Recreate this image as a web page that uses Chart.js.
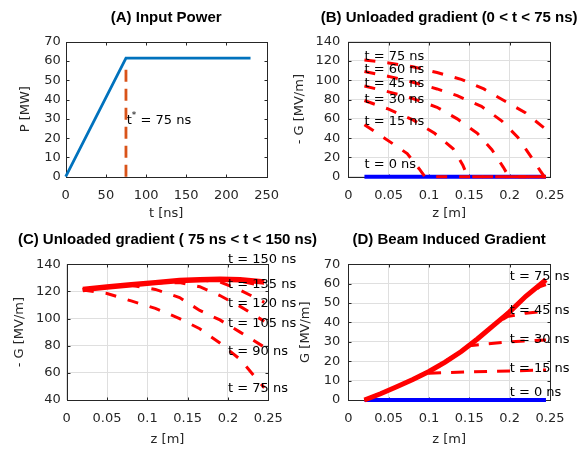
<!DOCTYPE html>
<html>
<head>
<meta charset="utf-8">
<script src="https://cdn.jsdelivr.net/npm/chart.js@4.4.1/dist/chart.umd.min.js"></script>
<style>
  body { margin: 0; background: #fff; }
  #wrap { position: relative; width: 587px; height: 452px; overflow: hidden; }
  #wrap canvas { position: absolute; }
</style>
</head>
<body>
<div id="wrap">
  <canvas id="powerChart" width="290" height="225" style="left:0;top:0"></canvas>
  <canvas id="fillChart" width="297" height="225" style="left:290px;top:0"></canvas>
  <canvas id="flatChart" width="320" height="227" style="left:0;top:225px"></canvas>
  <canvas id="beamChart" width="297" height="227" style="left:290px;top:225px"></canvas>
</div>
<script>
// (A) input power ramp
const powerTime = [0, 75, 230];
const powerMW = [0, 61.5, 61.5];
const markTime = [75, 75];
const markMW = [0, 56];

// (B) unloaded gradient while filling, z [m] / -G [MV/m]
const fillZ75 = [0.02, 0.05, 0.08, 0.11, 0.14, 0.168, 0.195, 0.22, 0.245];
const fillG75 = [121, 118, 114, 108, 101, 91, 78, 66, 49];
const fillZ60 = [0.02, 0.05, 0.08, 0.11, 0.135, 0.165, 0.19, 0.21, 0.227, 0.238, 0.243, 0.245];
const fillG60 = [109, 104, 98, 91, 84, 73, 58, 41, 20, 6, 0, 0];
const fillZ45 = [0.02, 0.05, 0.08, 0.11, 0.135, 0.16, 0.178, 0.192, 0.199, 0.245];
const fillG45 = [94, 88, 81, 72, 60, 45, 28, 10, 0, 0];
const fillZ30 = [0.02, 0.05, 0.08, 0.107, 0.13, 0.142, 0.148, 0.245];
const fillG30 = [79, 70, 59, 45, 29, 12, 0, 0];
const fillZ15 = [0.02, 0.045, 0.073, 0.088, 0.095, 0.245];
const fillG15 = [54, 40, 24, 8, 0, 0];
const fillZ0 = [0.02, 0.245];
const fillG0 = [0, 0];
const fillTimes = ['t = 75 ns', 't = 60 ns', 't = 45 ns', 't = 30 ns', 't = 15 ns', 't = 0 ns'];

// (C) unloaded gradient after the ramp
const flatZ = [0.02, 0.05, 0.08, 0.11, 0.14, 0.165, 0.19, 0.215, 0.245];
const flatG150 = [121.5, 123.3, 125, 126.5, 128, 128.7, 129, 128.7, 127];
const flatG135 = [121.5, 123.3, 125, 126.5, 128, 128.7, 128.8, 127.5, 124];
const flatG120 = [121.5, 123.3, 125, 126.5, 128, 128.5, 127, 121, 112];
const flatG105 = [121.5, 123.3, 125, 126.3, 126.5, 123.5, 117, 109, 98];
const flatG90 = [121.5, 123, 124.5, 121.5, 115.5, 106, 99, 90, 79];
const flatG75 = [121, 118.5, 113, 107.5, 100, 92.5, 82, 70, 49];
const flatTimes = ['t = 150 ns', 't = 135 ns', 't = 120 ns', 't = 105 ns', 't = 90 ns', 't = 75 ns'];

// (D) beam induced gradient
const beamZ = [0.02, 0.04, 0.06, 0.08, 0.1, 0.12, 0.14, 0.16, 0.18, 0.2, 0.22, 0.245];
const beamG75 = [0, 3.2, 6.8, 10.6, 14.7, 19.5, 25, 31.5, 38.5, 45.5, 53.5, 62];
const beamZ60 = [0.02, 0.06, 0.1, 0.14, 0.18, 0.22, 0.238, 0.245];
const beamG60 = [0, 6.8, 14.7, 25, 38.5, 53.5, 58.5, 59.5];
const beamZ45 = [0.02, 0.06, 0.1, 0.14, 0.18, 0.197, 0.22, 0.245];
const beamG45 = [0, 6.8, 14.7, 25, 38.5, 43, 44.8, 45.8];
const beamZ30 = [0.02, 0.06, 0.1, 0.14, 0.15, 0.2, 0.245];
const beamG30 = [0, 6.8, 14.7, 25, 28, 30, 31];
const beamZ15 = [0.02, 0.04, 0.06, 0.08, 0.1, 0.15, 0.2, 0.245];
const beamG15 = [0, 3.2, 6.8, 10.6, 13.8, 14.5, 15, 15.5];
const beamZ0 = [0.02, 0.245];
const beamG0 = [0, 0];
const beamTimes = ['t = 75 ns', 't = 45 ns', 't = 30 ns', 't = 15 ns', 't = 0 ns'];

const INK = '#262626';
const GRID = '#dfdfdf';
const RED = '#ff0000';
const BLUE = '#0000ff';
const DASH = [11, 12];

Chart.defaults.font.family = '"DejaVu Sans", sans-serif';
Chart.defaults.font.size = 13;
Chart.defaults.color = INK;

function pts(xs, ys) {
    return xs.map((x, i) => ({ x: x, y: ys[i] }));
}

function line(xs, ys, color, width, dash) {
    return {
        data: pts(xs, ys),
        borderColor: color,
        borderWidth: width,
        borderDash: dash || [],
        borderCapStyle: 'butt',
        pointRadius: 0,
        fill: false,
        clip: false
    };
}

// matlab-like box with inward ticks, labels inside the axes and the panel heading
const frame = {
    id: 'frame',
    beforeDatasetsDraw(chart) {
        const { ctx, chartArea: a, scales } = chart;
        const L = Math.round(a.left) + 0.5, R = Math.round(a.right) + 0.5;
        const T = Math.round(a.top) + 0.5, B = Math.round(a.bottom) + 0.5;
        ctx.save();
        ctx.strokeStyle = INK;
        ctx.lineWidth = 1;
        ctx.strokeRect(L, T, R - L, B - T);
        ctx.beginPath();
        scales.x.ticks.forEach(t => {
            const px = Math.round(scales.x.getPixelForValue(t.value)) + 0.5;
            ctx.moveTo(px, B); ctx.lineTo(px, B - 3);
            ctx.moveTo(px, T); ctx.lineTo(px, T + 3);
        });
        scales.y.ticks.forEach(t => {
            const py = Math.round(scales.y.getPixelForValue(t.value)) + 0.5;
            ctx.moveTo(L, py); ctx.lineTo(L + 3, py);
            ctx.moveTo(R, py); ctx.lineTo(R - 3, py);
        });
        ctx.stroke();
        ctx.restore();
    },
    afterDatasetsDraw(chart, args, opts) {
        const { ctx, chartArea: a, scales: { x, y } } = chart;
        ctx.save();
        ctx.fillStyle = '#000';
        ctx.textBaseline = 'middle';
        ctx.textAlign = 'left';
        (opts.notes || []).forEach(n => {
            let px = x.getPixelForValue(n.x);
            const py = y.getPixelForValue(n.y);
            ctx.font = '13px "DejaVu Sans"';
            ctx.fillText(n.text, px, py);
            if (n.sup) {
                px += ctx.measureText(n.text).width;
                ctx.font = '9px "DejaVu Sans"';
                ctx.fillText(n.sup, px, py - 5);
                px += ctx.measureText(n.sup).width;
                ctx.font = '13px "DejaVu Sans"';
                ctx.fillText(n.rest, px, py);
            }
        });
        if (opts.heading) {
            ctx.font = 'bold 15px "Liberation Sans"';
            ctx.textAlign = 'center';
            ctx.fillText(opts.heading, (a.left + a.right) / 2, opts.headingY);
        }
        ctx.restore();
    }
};
Chart.register(frame);

function panel(o) {
    return {
        responsive: false,
        animation: false,
        events: [],
        layout: { padding: { left: 0, right: o.padRight, top: o.top, bottom: 0 } },
        plugins: {
            legend: { display: false },
            tooltip: { enabled: false },
            frame: { heading: o.heading, headingY: o.headingY, notes: o.notes }
        },
        scales: {
            x: {
                type: 'linear',
                min: o.xMin,
                max: o.xMax,
                ticks: {
                    stepSize: o.xStep,
                    padding: 11,
                    maxRotation: 0,
                    autoSkip: false,
                    callback: v => String(+v.toFixed(2))
                },
                grid: { display: o.grid, color: GRID, drawTicks: false },
                border: { display: false },
                title: { display: true, text: o.xTitle, padding: { top: 0, bottom: o.xTitlePad } },
                afterFit: s => { s.height = o.xh; }
            },
            y: {
                min: o.yMin,
                max: o.yMax,
                ticks: { stepSize: o.yStep, padding: o.yTickPad, autoSkip: false },
                grid: { display: o.grid, color: GRID, drawTicks: false },
                border: { display: false },
                title: { display: true, text: o.yTitle, padding: { top: o.yTitlePad, bottom: 0 } },
                afterFit: s => { s.width = o.yw; }
            }
        }
    };
}

new Chart(document.getElementById('powerChart'), {
    type: 'line',
    data: {
        datasets: [
            line(powerTime, powerMW, '#0072bd', 2.8),
            line(markTime, markMW, '#d95319', 2.8, [12, 7])
        ]
    },
    options: panel({
        padRight: 21.7, top: 41.7, xh: 48.3, yw: 65.7,
        xMin: 0, xMax: 250, xStep: 50, yMin: 0, yMax: 70, yStep: 10,
        grid: false, xTitle: 't [ns]', yTitle: 'P [MW]',
        xTitlePad: 3.2, yTitlePad: 17.7, yTickPad: 5,
        heading: '(A) Input Power', headingY: 17.5,
        notes: [{ x: 76, y: 29, text: 't', sup: '*', rest: ' = 75 ns' }]
    })
});

const fillLabelG = [124.4, 110.6, 96.8, 80.2, 56.9, 12.7];
new Chart(document.getElementById('fillChart'), {
    type: 'line',
    data: {
        datasets: [
            line(fillZ75, fillG75, RED, 3, DASH),
            line(fillZ60, fillG60, RED, 3, DASH),
            line(fillZ45, fillG45, RED, 3, DASH),
            line(fillZ30, fillG30, RED, 3, DASH),
            line(fillZ15, fillG15, RED, 3, DASH),
            line(fillZ0, fillG0, BLUE, 4)
        ]
    },
    options: panel({
        padRight: 37, top: 41.7, xh: 48.3, yw: 58.3,
        xMin: 0, xMax: 0.25, xStep: 0.05, yMin: 0, yMax: 140, yStep: 20,
        grid: true, xTitle: 'z [m]', yTitle: '- G [MV/m]',
        xTitlePad: 3.2, yTitlePad: 2.2, yTickPad: 8,
        heading: '(B) Unloaded gradient (0 < t < 75 ns)', headingY: 17.5,
        notes: fillTimes.map((t, i) => ({ x: 0.02, y: fillLabelG[i], text: t }))
    })
});

const flatLabelG = [143.2, 124.7, 110.7, 96, 75.6, 48.6];
new Chart(document.getElementById('flatChart'), {
    type: 'line',
    data: {
        datasets: [
            line(flatZ, flatG150, RED, 5.5),
            line(flatZ, flatG135, RED, 3, DASH),
            line(flatZ, flatG120, RED, 3, DASH),
            line(flatZ, flatG105, RED, 3, DASH),
            line(flatZ, flatG90, RED, 3, DASH),
            line(flatZ, flatG75, RED, 3, DASH)
        ]
    },
    options: panel({
        padRight: 51.7, top: 39.3, xh: 52, yw: 66.7,
        xMin: 0, xMax: 0.25, xStep: 0.05, yMin: 40, yMax: 140, yStep: 20,
        grid: true, xTitle: 'z [m]', yTitle: '- G [MV/m]',
        xTitlePad: 4.2, yTitlePad: 11.4, yTickPad: 6,
        heading: '(C) Unloaded gradient ( 75 ns < t < 150 ns)', headingY: 15,
        notes: flatTimes.map((t, i) => ({ x: 0.2, y: flatLabelG[i], text: t }))
    })
});

const beamLabelG = [63.6, 45.9, 31.3, 16.3, 3.8];
const BEAM_DASH = [13, 10];
new Chart(document.getElementById('beamChart'), {
    type: 'line',
    data: {
        datasets: [
            line(beamZ, beamG75, RED, 5),
            line(beamZ60, beamG60, RED, 3, BEAM_DASH),
            line(beamZ45, beamG45, RED, 3, BEAM_DASH),
            line(beamZ30, beamG30, RED, 3, BEAM_DASH),
            line(beamZ15, beamG15, RED, 3, BEAM_DASH),
            line(beamZ0, beamG0, BLUE, 4)
        ]
    },
    options: panel({
        padRight: 37, top: 39.3, xh: 52, yw: 58.3,
        xMin: 0, xMax: 0.25, xStep: 0.05, yMin: 0, yMax: 70, yStep: 10,
        grid: true, xTitle: 'z [m]', yTitle: 'G [MV/m]',
        xTitlePad: 4.2, yTitlePad: 8, yTickPad: 8,
        heading: '(D) Beam Induced Gradient', headingY: 15,
        notes: beamTimes.map((t, i) => ({ x: 0.2, y: beamLabelG[i], text: t }))
    })
});
</script>
</body>
</html>
